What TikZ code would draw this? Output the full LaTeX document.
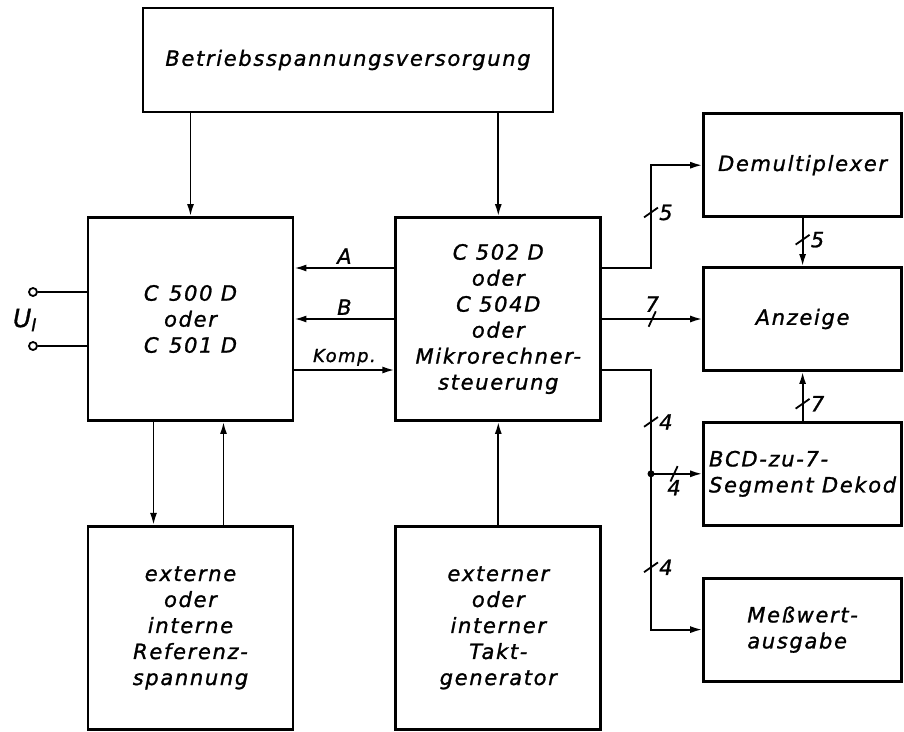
\documentclass[tikz,border=0pt]{standalone}
\usepackage{fontspec}
\newfontfamily\handfont[LetterSpace=8,FakeBold=1.2]{DejaVu Sans}
\usetikzlibrary{arrows.meta,positioning}

\begin{document}
\begin{tikzpicture}[
  x=1pt, y=-1pt,
  font=\handfont\itshape\fontsize{21}{26}\selectfont,
  bigbox/.style={
    rectangle, draw=black, line width=2.8pt,
    minimum width=205pt, minimum height=203pt,
    inner sep=0pt, align=center
  },
  smallbox/.style={
    rectangle, draw=black, line width=2.8pt,
    minimum width=198pt, minimum height=103pt,
    inner sep=0pt, align=center
  },
  arr/.style={-{Latex[length=12pt,width=7pt]}, line width=1.8pt},
  wire/.style={line width=1.8pt},
  vbus/.style={draw, line width=1.8pt, minimum width=17pt,
    minimum height=0pt, inner sep=0pt, rotate=35},
  hbus/.style={vbus, rotate=30},
  term/.style={circle, draw, line width=1.8pt, minimum size=8pt, inner sep=0pt},
  node distance=103pt and 100pt,
]
\useasboundingbox (0,0) rectangle (904,731);

%% ── Supply on top ────────────────────────────────────────────────
\node[rectangle, draw, line width=2.8pt, minimum width=410pt,
      minimum height=104pt] (supply) at (348,60) {Betriebsspannungsversorgung};

%% ── Middle row ───────────────────────────────────────────────────
\node[bigbox]                 (adc)  at (190.5,319) {C\enspace 500 D\\oder\\C\enspace 501 D};
\node[bigbox, right=of adc]   (ctrl) {C 502 D\\oder\\C 504D\\oder\\Mikrorechner-\\steuerung};

%% ── Bottom row ───────────────────────────────────────────────────
\node[bigbox, below=of adc]   (ref)  {externe\\oder\\interne\\Referenz-\\spannung};
\node[bigbox, below=of ctrl]  (clk)  {externer\\oder\\interner\\Takt-\\generator};

%% ── Right column ─────────────────────────────────────────────────
\node[smallbox, right=100pt of ctrl]  (disp)  {Anzeige};
\node[smallbox, above=48pt of disp]   (demux) {Demultiplexer};
\node[smallbox, below=49pt of disp, align=left] (dec) {BCD-zu-7-\\Segment Dekod};
\node[smallbox, below=50pt of dec, align=left]  (out) {Meßwert-\\ausgabe};

%% ── Input terminals ──────────────────────────────────────────────
\node[term] (ui1) at (33,292) {};
\node[term] (ui2) at (33,346) {};
\node (ulbl) at (25,320) {\fontsize{25}{25}\selectfont U\textsubscript{I}};
\draw[wire] (ui1) -- (ui1 -| adc.west);
\draw[wire] (ui2) -- (ui2 -| adc.west);

%% ── Supply arrows ────────────────────────────────────────────────
\draw[arr] (supply.south -| adc.north)  -- (adc.north);
\draw[arr] (supply.south -| ctrl.north) -- (ctrl.north);

%% ── Between converter and control ────────────────────────────────
\draw[arr] ([yshift=51pt]ctrl.west) -- node[above] (lblA) {A} ([yshift=51pt]ctrl.west -| adc.east);
\draw[arr] (ctrl.west) -- node[above] (lblB) {B} (ctrl.west -| adc.east);
\draw[arr] ([yshift=-51pt]adc.east) -- node[above, font=\handfont\itshape\fontsize{18}{20}\selectfont] (lblK) {Komp.}
  ([yshift=-51pt]adc.east -| ctrl.west);

%% ── Reference and clock ──────────────────────────────────────────
\draw[arr] ([xshift=-37pt]adc.south) -- ([xshift=-37pt]adc.south |- ref.north);
\draw[arr] ([xshift=33pt]ref.north) -- ([xshift=33pt]ref.north |- adc.south);
\draw[arr] (clk.north) -- (ctrl.south);

%% ── Buses to the right column ────────────────────────────────────
\coordinate (busx) at (651,0);
\draw[arr] ([yshift=51pt]ctrl.east) -- ([yshift=51pt]ctrl.east -| busx)
  |- node[pos=0.27, vbus] (m1) {} node[pos=0.27, right=4pt] (n1) {5} (demux.west);
\draw[arr] (ctrl.east) -- node[hbus] (m2) {} node[above=3pt] (n2) {7} (ctrl.east -| disp.west);
\draw[arr] (demux.south) -- node[pos=0.45, vbus] (m3) {} node[pos=0.45, right=4pt] (n3) {5} (disp.north);
\draw[arr] (dec.north) -- node[pos=0.35, vbus] (m4) {} node[pos=0.35, right=4pt] (n4) {7} (disp.south);
\draw[arr] ([yshift=-51pt]ctrl.east) -- ([yshift=-51pt]ctrl.east -| busx)
  |- node[pos=0.10, vbus] (m5) {} node[pos=0.10, right=4pt] (n5) {4}
     node[pos=0.38, vbus] (m6) {} node[pos=0.38, right=4pt] (n6) {4} (out.west);

%% ── Branch to decoder ────────────────────────────────────────────
\coordinate (split) at (busx |- dec.west);
\fill (split) circle (3.5pt);
\draw[arr] (split) -- node[pos=0.45, hbus] (m7) {} node[pos=0.45, below=2pt] (n7) {4} (dec.west);

\end{tikzpicture}
\end{document}
